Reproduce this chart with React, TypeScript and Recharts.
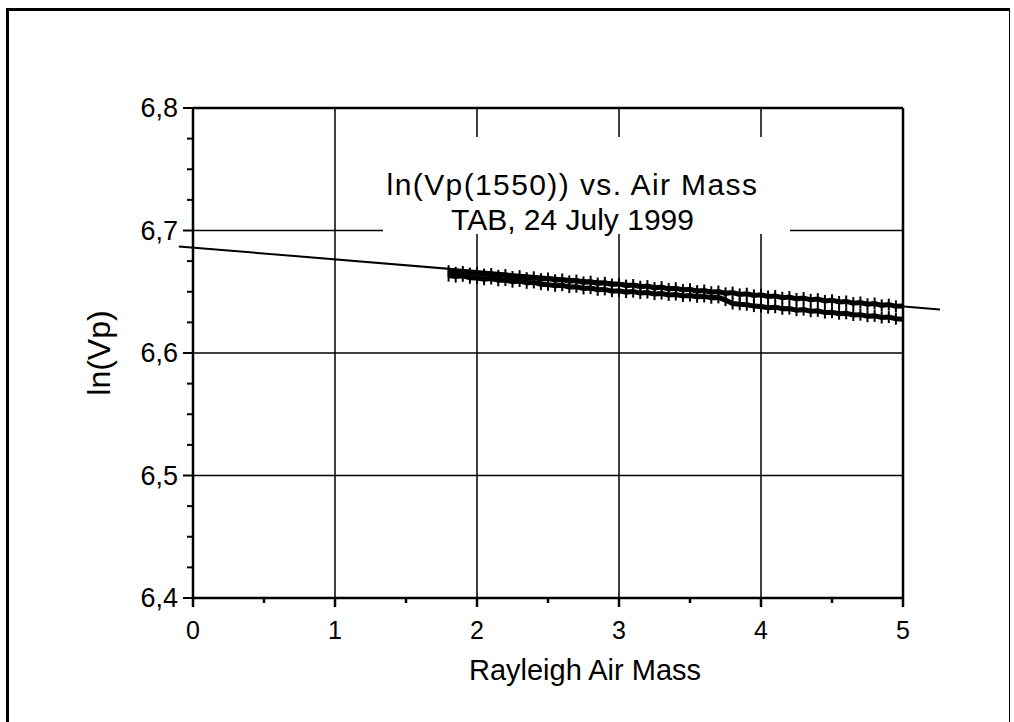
import React from "react";
import { ComposedChart, Line, XAxis, YAxis, ReferenceLine, Label } from "recharts";

// Rayleigh air mass samples shared by both branches
const airMass = [
  1.8, 1.85, 1.9, 1.95, 2.0, 2.05, 2.1, 2.15, 2.2, 2.25, 2.3, 2.35, 2.4, 2.45, 2.5, 2.55,
  2.6, 2.65, 2.7, 2.75, 2.8, 2.85, 2.9, 2.95, 3.0, 3.05, 3.1, 3.15, 3.2, 3.25, 3.3, 3.35,
  3.4, 3.45, 3.5, 3.55, 3.6, 3.65, 3.7, 3.75, 3.8, 3.85, 3.9, 3.95, 4.0, 4.05, 4.1, 4.15,
  4.2, 4.25, 4.3, 4.35, 4.4, 4.45, 4.5, 4.55, 4.6, 4.65, 4.7, 4.75, 4.8, 4.85, 4.9, 4.95, 5.0,
];

// ln(Vp) upper branch
const upperBranch = [
  6.6668, 6.6655, 6.6662, 6.6648, 6.6653, 6.664, 6.6645, 6.663, 6.6636, 6.662, 6.6627, 6.6611,
  6.6618, 6.6603, 6.6609, 6.6594, 6.66, 6.6585, 6.6591, 6.6576, 6.6582, 6.6567, 6.6573, 6.6559,
  6.6564, 6.655, 6.6555, 6.6541, 6.6546, 6.6531, 6.6538, 6.6522, 6.6529, 6.6514, 6.652, 6.6505,
  6.651, 6.6496, 6.6502, 6.6487, 6.6493, 6.6478, 6.6484, 6.647, 6.6475, 6.6461, 6.6466, 6.6451,
  6.6457, 6.6442, 6.6449, 6.6434, 6.644, 6.6425, 6.6431, 6.6416, 6.6421, 6.6407, 6.6412, 6.6398,
  6.6404, 6.6389, 6.6395, 6.6381, 6.6384,
];

// ln(Vp) lower branch (drops near air mass 3.75)
const lowerBranch = [
  6.6632, 6.6624, 6.663, 6.6615, 6.6612, 6.6602, 6.6608, 6.6593, 6.6596, 6.6582, 6.6588, 6.6573,
  6.6576, 6.6562, 6.6558, 6.6549, 6.6553, 6.6538, 6.6541, 6.6527, 6.653, 6.6516, 6.6519, 6.6505,
  6.6508, 6.6497, 6.6501, 6.6489, 6.6493, 6.6481, 6.6485, 6.6474, 6.6477, 6.6466, 6.647, 6.6459,
  6.6462, 6.6451, 6.6454, 6.6432, 6.6404, 6.6398, 6.6394, 6.6383, 6.638, 6.637, 6.6374, 6.6361,
  6.6363, 6.635, 6.6354, 6.6341, 6.6344, 6.633, 6.6333, 6.6321, 6.6324, 6.631, 6.6313, 6.63,
  6.6303, 6.629, 6.6293, 6.628, 6.6276,
];

// linear fit end points
const fitX = [-0.1, 5.26];
const fitY = [6.687, 6.6355];

const xTicks = [0, 1, 2, 3, 4, 5];
const xMinorTicks = [0.5, 1.5, 2.5, 3.5, 4.5];
const yTicks = [6.4, 6.5, 6.6, 6.7, 6.8];
const yTickLabels = ["6,4", "6,5", "6,6", "6,7", "6,8"];
const yMinorTicks = [
  6.425, 6.45, 6.475, 6.525, 6.55, 6.575, 6.625, 6.65, 6.675, 6.725, 6.75, 6.775,
];
const gridX = [1, 2, 3, 4, 5];
const gridY = [6.5, 6.6, 6.7, 6.8];

const FONT = "'Liberation Sans', Arial, sans-serif";

const rows = airMass.map((x, i) => ({ x, up: upperBranch[i], low: lowerBranch[i] }));

function XTick({ x, y, payload }: any) {
  const v = payload.value;
  const major = xTicks.includes(v);
  return (
    <g>
      <line x1={x} x2={x} y1={y} y2={y + (major ? 9 : 5)} stroke="#000" strokeWidth={2.5} />
      {major && (
        <text x={x} y={y + 41} textAnchor="middle" fontSize={25} fontFamily={FONT} fill="#000">
          {v}
        </text>
      )}
    </g>
  );
}

function YTick({ x, y, payload }: any) {
  const v = payload.value;
  const idx = yTicks.indexOf(v);
  const major = idx >= 0;
  return (
    <g>
      <line x1={x} x2={x - (major ? 10 : 6)} y1={y} y2={y} stroke="#000" strokeWidth={2} />
      {major && (
        <text x={x - 15} y={y + 9} textAnchor="end" fontSize={27} fontFamily={FONT} fill="#000">
          {yTickLabels[idx]}
        </text>
      )}
    </g>
  );
}

const spikeDot = (p: any) => (
  <line
    key={`s${p.dataKey}${p.index}`}
    x1={p.cx}
    x2={p.cx}
    y1={p.cy - 6}
    y2={p.cy + 6}
    stroke="#000"
    strokeWidth={2}
  />
);

export default function App() {
  return (
    <div
      style={{
        position: "absolute",
        left: 0,
        top: 0,
        width: 1014,
        height: 722,
        background: "#fff",
        overflow: "hidden",
        fontFamily: FONT,
      }}
    >
      {/* outer frame */}
      <div
        style={{
          position: "absolute",
          left: 6,
          top: 8,
          width: 1000,
          height: 730,
          borderLeft: "3px solid #000",
          borderTop: "3px solid #000",
          borderRight: "1px solid #000",
        }}
      />

      <ComposedChart
        width={1014}
        height={722}
        data={rows}
        margin={{ top: 108, right: 111, bottom: 0, left: 0 }}
        style={{ position: "absolute", left: 0, top: 0 }}
      >
        <XAxis
          dataKey="x"
          type="number"
          domain={[0, 5]}
          allowDataOverflow
          ticks={[...xTicks, ...xMinorTicks]}
          interval={0}
          height={124}
          tickSize={0}
          tickMargin={0}
          tickLine={false}
          tick={<XTick />}
          axisLine={{ stroke: "#000", strokeWidth: 2.5 }}
        >
          <Label
            value="Rayleigh Air Mass"
            position="insideTop"
            offset={61}
            dx={37}
            style={{ fontSize: 29, fontFamily: FONT, fill: "#000" }}
          />
        </XAxis>
        <YAxis
          type="number"
          domain={[6.4, 6.8]}
          allowDataOverflow
          ticks={[...yTicks, ...yMinorTicks]}
          interval={0}
          width={193}
          tickSize={0}
          tickMargin={0}
          tickLine={false}
          tick={<YTick />}
          axisLine={{ stroke: "#000", strokeWidth: 2.5 }}
        >
          <Label
            value="ln(Vp)"
            angle={-90}
            position="insideLeft"
            offset={99}
            style={{ fontSize: 32, fontFamily: FONT, fill: "#000", textAnchor: "middle" }}
          />
        </YAxis>

        {gridX.map((g) => (
          <ReferenceLine key={`gx${g}`} x={g} stroke="#000" strokeWidth={g === 5 ? 2.5 : 1.5} />
        ))}
        {gridY.map((g) => (
          <ReferenceLine key={`gy${g}`} y={g} stroke="#000" strokeWidth={g === 6.8 ? 2.5 : 1.5} />
        ))}

        <Line
          dataKey="up"
          stroke="#000"
          strokeWidth={5}
          dot={spikeDot}
          activeDot={false}
          isAnimationActive={false}
        />
        <Line
          dataKey="low"
          stroke="#000"
          strokeWidth={5}
          dot={spikeDot}
          activeDot={false}
          isAnimationActive={false}
        />

        <ReferenceLine
          segment={[
            { x: fitX[0], y: fitY[0] },
            { x: fitX[1], y: fitY[1] },
          ]}
          ifOverflow="visible"
          stroke="#000"
          strokeWidth={2}
        />
      </ComposedChart>

      {/* title box */}
      <div
        style={{
          position: "absolute",
          left: 383,
          top: 137,
          width: 407,
          height: 97,
          background: "#fff",
          textAlign: "center",
          fontSize: 30,
          lineHeight: "35px",
          color: "#000",
          paddingTop: 30,
          paddingRight: 28,
          boxSizing: "border-box",
          whiteSpace: "nowrap",
        }}
      >
        <div style={{ letterSpacing: 1.4 }}>ln(Vp(1550)) vs. Air Mass</div>
        <div>TAB, 24 July 1999</div>
      </div>
    </div>
  );
}
